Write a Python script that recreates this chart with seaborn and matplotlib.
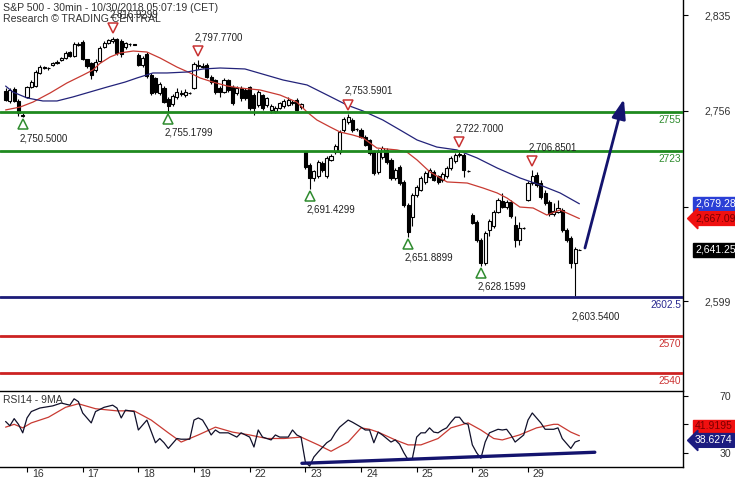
import matplotlib
matplotlib.use("Agg")
import matplotlib.pyplot as plt
import matplotlib.transforms as mtransforms
import numpy as np
import pandas as pd
import seaborn as sns

# ---------------- data ----------------
day_labels = ["16", "17", "18", "19", "22", "23", "24", "25", "26", "29"]
day_start = [5, 18, 31, 44, 57, 70, 83, 96, 109, 122]

opens = [
    2772.3, 2764.1, 2774.0, 2764.1, 2751.7,
    2767.4, 2775.6, 2776.5, 2787.2, 2792.1, 2791.3, 2793.8, 2795.4, 2797.9, 2799.5, 2804.5, 2801.2, 2810.3,
    2812.8, 2798.7, 2795.4, 2789.7, 2797.1, 2808.6, 2811.9, 2813.6, 2815.2, 2813.6, 2808.6, 2811.1, 2810.9,
    2802.0, 2793.8, 2802.9, 2785.5, 2783.1, 2770.7, 2774.8, 2765.7, 2761.6, 2767.4, 2770.7, 2769.0, 2770.7,
    2774.8, 2793.0, 2793.0, 2793.8, 2783.9, 2781.4, 2774.8, 2771.5, 2781.4, 2775.6, 2770.7, 2774.8, 2773.2,
    2775.6, 2769.0, 2760.8, 2769.0, 2760.8, 2756.7, 2755.8, 2758.3, 2760.0, 2760.8, 2763.2, 2764.9, 2759.1,
    2722.0, 2711.3, 2700.6, 2702.2, 2712.9, 2702.2, 2715.4, 2722.0, 2722.0, 2740.2, 2746.8, 2748.4, 2741.0,
    2740.2, 2734.4, 2731.9, 2722.0, 2705.5, 2717.9, 2723.7, 2715.4, 2700.6, 2709.6, 2697.3, 2678.3, 2668.4,
    2686.5, 2690.7, 2697.3, 2701.4, 2705.5, 2702.2, 2698.9, 2702.2, 2708.8, 2714.6, 2719.5, 2719.5, 2706.3,
    2670.0, 2664.2, 2649.4, 2630.4, 2657.7, 2661.0, 2672.5, 2681.6, 2676.6, 2680.7, 2661.8, 2649.4, 2659.6,
    2682.4, 2696.4, 2703.0, 2696.4, 2688.2, 2680.7, 2670.9, 2672.5, 2674.2, 2657.7, 2651.1, 2630.4, 2641.5,
]
highs = [
    2774.8, 2774.8, 2775.6, 2765.7, 2754.2,
    2776.5, 2781.4, 2789.7, 2793.8, 2793.0, 2792.5, 2796.5, 2797.5, 2800.5, 2805.3, 2805.3, 2812.8, 2812.8,
    2814.4, 2799.0, 2796.2, 2798.7, 2809.4, 2813.6, 2815.2, 2816.9299, 2816.0, 2815.2, 2812.8, 2812.0, 2811.2,
    2803.7, 2801.2, 2804.5, 2787.2, 2783.9, 2779.7, 2776.5, 2767.4, 2769.9, 2774.8, 2773.5, 2774.0, 2771.5,
    2796.2, 2797.77, 2795.4, 2795.4, 2785.5, 2782.2, 2776.5, 2783.1, 2782.2, 2777.3, 2776.5, 2776.5, 2774.8,
    2776.5, 2770.7, 2773.2, 2769.9, 2767.4, 2761.6, 2760.0, 2763.2, 2765.7, 2767.4, 2764.9, 2766.6, 2762.4,
    2722.8, 2712.9, 2707.2, 2715.4, 2714.6, 2718.8, 2720.3, 2728.6, 2740.2, 2750.9, 2753.5901, 2750.0, 2741.8,
    2741.8, 2736.0, 2732.7, 2723.7, 2724.5, 2727.0, 2725.3, 2717.1, 2708.8, 2711.3, 2698.9, 2680.0, 2688.2,
    2694.8, 2702.2, 2706.3, 2708.8, 2707.2, 2703.0, 2705.5, 2710.4, 2718.7, 2721.2, 2722.70, 2721.2, 2707.0,
    2671.7, 2665.9, 2651.1, 2656.8, 2666.7, 2674.2, 2684.0, 2688.2, 2682.4, 2682.4, 2669.2, 2664.2, 2660.0,
    2698.1, 2706.8501, 2705.5, 2698.9, 2690.7, 2682.4, 2680.0, 2682.4, 2675.8, 2659.3, 2652.7, 2643.6, 2642.0,
]
lows = [
    2764.1, 2762.4, 2763.2, 2751.7, 2750.50,
    2766.6, 2774.8, 2775.6, 2786.3, 2790.5, 2790.0, 2793.0, 2794.5, 2796.8, 2798.7, 2800.4, 2800.4, 2809.4,
    2797.9, 2791.3, 2782.2, 2788.0, 2796.2, 2807.8, 2811.1, 2811.9, 2802.0, 2800.4, 2807.0, 2809.5, 2810.0,
    2793.0, 2792.1, 2783.1, 2769.0, 2769.9, 2769.0, 2762.4, 2755.1799, 2760.0, 2765.7, 2768.5, 2767.4, 2769.8,
    2774.0, 2790.5, 2791.3, 2783.1, 2778.1, 2769.9, 2767.4, 2770.7, 2771.5, 2760.8, 2769.0, 2764.1, 2764.9,
    2756.7, 2752.5, 2759.1, 2756.7, 2759.1, 2754.2, 2754.2, 2757.5, 2758.3, 2760.0, 2760.8, 2755.8, 2757.5,
    2708.0, 2691.4299, 2698.1, 2700.6, 2705.5, 2700.6, 2714.6, 2720.3, 2720.3, 2738.5, 2745.1, 2738.5, 2739.5,
    2733.5, 2727.0, 2719.5, 2703.0, 2703.8, 2716.2, 2712.1, 2698.9, 2698.9, 2694.8, 2676.6, 2651.8899, 2661.0,
    2684.9, 2689.8, 2695.6, 2700.6, 2698.1, 2695.6, 2697.3, 2700.6, 2707.2, 2712.9, 2717.9, 2701.4, 2705.6,
    2662.6, 2647.8, 2628.1599, 2628.8, 2652.7, 2659.3, 2671.7, 2675.8, 2675.0, 2667.5, 2643.6, 2645.3, 2658.8,
    2681.6, 2694.8, 2693.2, 2683.2, 2678.3, 2669.2, 2669.2, 2671.7, 2656.0, 2647.8, 2626.3, 2603.54, 2641.0,
]
closes = [
    2764.9, 2773.2, 2764.1, 2754.2, 2752.5,
    2775.6, 2779.7, 2788.0, 2792.1, 2791.5, 2791.0, 2795.4, 2796.2, 2799.5, 2803.7, 2801.2, 2811.1, 2811.1,
    2798.7, 2793.0, 2785.5, 2796.2, 2807.8, 2811.9, 2814.4, 2815.2, 2803.7, 2802.9, 2811.9, 2810.7, 2810.6,
    2793.8, 2799.5, 2784.7, 2770.7, 2771.5, 2778.1, 2763.2, 2760.0, 2768.2, 2771.5, 2770.2, 2771.5, 2770.5,
    2794.6, 2793.8, 2792.5, 2783.9, 2779.7, 2771.5, 2771.5, 2781.4, 2773.2, 2762.4, 2774.8, 2766.6, 2766.6,
    2758.3, 2758.3, 2771.5, 2758.3, 2766.6, 2760.0, 2758.3, 2762.4, 2764.1, 2764.9, 2762.4, 2756.7, 2761.6,
    2709.6, 2700.6, 2706.3, 2713.7, 2707.2, 2717.1, 2718.7, 2727.0, 2738.5, 2749.2, 2750.9, 2740.2, 2740.6,
    2734.4, 2727.8, 2721.2, 2704.7, 2722.0, 2725.3, 2713.8, 2700.6, 2707.2, 2696.4, 2678.3, 2656.0, 2686.5,
    2693.1, 2700.6, 2704.7, 2707.2, 2698.9, 2697.3, 2703.8, 2708.8, 2717.1, 2719.5, 2720.3, 2707.2, 2706.0,
    2663.4, 2649.4, 2630.4, 2655.2, 2665.1, 2672.5, 2682.4, 2676.6, 2680.7, 2669.2, 2649.4, 2659.3, 2659.3,
    2696.4, 2702.2, 2694.8, 2684.9, 2679.9, 2670.9, 2673.3, 2675.8, 2657.7, 2649.4, 2630.4, 2642.0, 2641.25,
]

# moving averages on price (bar index, value)
ma_red_idx = [0, 3.4, 6.4, 10.4, 14.3, 18.1, 20.4, 22.0, 24.4, 26.7, 29.8, 33.0, 36.1, 40.0, 43.1, 45.4,
              48.4, 51.7, 54.7, 59.4, 64.1, 68.0, 70.4, 72.7, 75.8, 78.1, 81.1, 83.5, 86.7, 91.4, 93.7,
              96.1, 99.1, 103.1, 107.8, 111.5, 114.8, 117.1, 120.1, 123.2, 126.4, 129.5, 134]
ma_red_val = [2756.7, 2759.1, 2763.2, 2770.7, 2778.9, 2785.5, 2789.7, 2795.0, 2800.4, 2803.7, 2805.3,
              2804.5, 2799.5, 2792.1, 2787.2, 2783.1, 2779.7, 2776.5, 2774.8, 2773.2, 2769.0, 2763.2,
              2755.0, 2748.4, 2742.6, 2738.5, 2736.0, 2733.5, 2725.3, 2723.7, 2722.0, 2715.4, 2705.5,
              2697.3, 2696.4, 2692.3, 2688.2, 2684.0, 2676.6, 2675.8, 2670.0, 2674.2, 2667.09]
ma_blue_idx = [0, 1.7, 5.0, 8.7, 12.0, 15.7, 19.7, 23.7, 27.9, 30.7, 34.4, 37.7, 42.4, 46.1, 50.1, 55.9,
               64.8, 70.4, 75.1, 79.7, 83.5, 88.1, 92.1, 96.1, 100.7, 105.4, 110.1, 114.8, 120.1, 124.8,
               129.5, 134]
ma_blue_val = [2776.4, 2771.5, 2766.6, 2764.1, 2764.1, 2767.4, 2771.5, 2775.6, 2779.7, 2783.1, 2787.2,
               2787.2, 2788.0, 2790.5, 2791.3, 2790.5, 2781.4, 2777.3, 2769.0, 2760.8, 2755.8, 2748.4,
               2740.2, 2731.9, 2726.1, 2723.7, 2717.1, 2708.8, 2700.6, 2694.8, 2688.2, 2679.28]

# pivots
pivot_high_idx = [25, 45, 80, 106, 123]
pivot_high_val = [2816.9299, 2797.77, 2753.5901, 2722.70, 2706.8501]
pivot_low_idx = [4, 38, 71, 94, 111]
pivot_low_val = [2750.50, 2755.1799, 2691.4299, 2651.8899, 2628.1599]
last_low_idx, last_low_val = 133, 2603.54

# support / resistance levels
level_vals = [2755, 2723, 2602.5, 2570, 2540]
level_colors = ["#1f8a1f", "#1f8a1f", "#1c1c78", "#cc2222", "#cc2222"]
level_text_colors = ["#2e8b2e", "#2e8b2e", "#2a2a90", "#cc3333", "#cc3333"]

# projected move
proj_idx = [135.3, 144.4]
proj_val = [2642.8, 2765.7]

# RSI(14) and its 9-period average
rsi_idx = [0, 1, 2, 3, 4, 5, 6, 8, 11, 13, 15, 16, 17, 18, 20, 21, 23, 25, 26, 27, 28, 30, 31, 33, 35,
           36, 37, 38, 40, 41, 43, 44, 45, 46, 47, 48, 49, 50, 52, 54, 55, 57, 58, 59, 60, 62, 63, 64,
           66, 67, 68, 69, 70, 71, 72, 73, 75, 76, 77, 78, 80, 81, 83, 84, 85, 86, 87, 88, 90, 91, 92,
           93, 94, 95, 96, 97, 98, 99, 100, 101, 102, 103, 104, 105, 106, 107, 108, 109, 110, 111,
           112, 113, 115, 116, 117, 118, 119, 120, 121, 122, 123, 124, 125, 126, 128, 129, 130, 132,
           133, 134]
rsi_val = [52, 49, 54, 50, 44, 54.5, 59, 61.5, 63, 65, 63.5, 68, 66, 58, 51, 59, 62, 63.5, 61.5, 54.5,
           60, 59, 46, 53, 37, 40, 37, 33, 40, 39.5, 39.5, 53, 54.5, 53, 48, 42.5, 46, 44, 44, 41, 44,
           41, 34, 46, 41, 39, 42.5, 41, 41, 46, 42.5, 41, 23.5, 20.5, 27, 30.5, 37, 39, 44, 48, 53,
           51.5, 48, 46, 46, 37, 44.5, 42.5, 37.5, 39, 36, 30, 25, 26, 41, 44, 44, 47.5, 44.5, 44, 46,
           47.5, 51.5, 55, 55, 51, 50, 35.5, 30, 26, 37.5, 44, 46.5, 46, 46.5, 42.5, 37.5, 40, 42.5,
           53, 58, 54.5, 51, 46.5, 46.5, 47.5, 40, 33, 37.5, 38.6274]
rsi_ma_idx = [0, 2, 4, 6, 10, 14, 17, 21, 26, 30, 34, 38, 41, 45, 49, 53, 57, 61, 65, 69, 73, 76, 80,
              83, 85, 87, 91, 94, 97, 101, 104, 108, 111, 114, 116, 120, 124, 128, 129, 132, 134]
rsi_ma_val = [48, 50, 47.5, 51, 55, 62, 64.5, 61, 59.5, 59.5, 53, 44, 37.5, 42.5, 48, 44.5, 42.5, 40,
              40, 41, 35.5, 31, 37.5, 47.5, 46.5, 44.5, 39, 35.5, 35.5, 40, 47.5, 51, 46, 40, 39, 42.5,
              47.5, 50, 50, 44.5, 41.9195]
rsi_trend_idx = [69.2, 137.6]
rsi_trend_val = [22.5, 30.3]

# ---------------- plotting ----------------
sns.set_theme(style="white")
plt.rcParams["font.family"] = ["Liberation Sans", "DejaVu Sans"]

NAVY = "#14146e"
RED = "#cc2a2a"
TEXT = "#333333"

fig = plt.figure(figsize=(7.35, 4.8), dpi=100)
ax = fig.add_axes([0, 90 / 480, 683 / 735, 390 / 480])
ax_rsi = fig.add_axes([0, 13 / 480, 683 / 735, 76 / 480])

bars = pd.DataFrame({"open": opens, "high": highs, "low": lows, "close": closes})
bars["idx"] = np.arange(len(bars))
up = bars[bars["close"] >= bars["open"]]
down = bars[bars["close"] < bars["open"]]

ax.vlines(bars["idx"], bars["low"], bars["high"], color="black", lw=0.8, zorder=2)
ax.bar(up["idx"], up["close"] - up["open"], bottom=up["open"], width=0.72,
       facecolor="white", edgecolor="black", lw=0.8, zorder=3)
ax.bar(down["idx"], down["open"] - down["close"], bottom=down["close"], width=0.72,
       facecolor="black", edgecolor="black", lw=0.8, zorder=3)

sns.lineplot(x=ma_red_idx, y=ma_red_val, ax=ax, color="#c83a32", lw=0.9, zorder=4)
sns.lineplot(x=ma_blue_idx, y=ma_blue_val, ax=ax, color="#23237a", lw=0.9, zorder=4)

for val, col, tcol in zip(level_vals, level_colors, level_text_colors):
    ax.axhline(val, color=col, lw=2, zorder=5)
    ax.annotate(f"{val:g}", xy=(1, val), xycoords=("axes fraction", "data"),
                xytext=(-1.2, -2.2), textcoords="offset points", ha="right", va="top",
                fontsize=7.3, color=tcol)

# pivot markers and labels
up_shift = mtransforms.ScaledTranslation(0, 0.09, fig.dpi_scale_trans)
dn_shift = mtransforms.ScaledTranslation(0, -0.07, fig.dpi_scale_trans)
ax.plot(pivot_high_idx, pivot_high_val, linestyle="none", marker="v", ms=7.5, mfc="white",
        mec="#c83232", mew=1.1, transform=ax.transData + up_shift, zorder=6)
ax.plot(pivot_low_idx, pivot_low_val, linestyle="none", marker="^", ms=7.5, mfc="white",
        mec="#2e8b2e", mew=1.1, transform=ax.transData + dn_shift, zorder=6)
for i, v in zip(pivot_high_idx, pivot_high_val):
    ax.annotate(f"{v:,.4f}", xy=(i, v), xytext=(-2.5, 16.5), textcoords="offset points",
                ha="left", va="center", fontsize=7, color="#222222", zorder=7)
for i, v in zip(pivot_low_idx + [last_low_idx], pivot_low_val + [last_low_val]):
    ax.annotate(f"{v:,.4f}", xy=(i, v), xytext=(-2.5, -15), textcoords="offset points",
                ha="left", va="center", fontsize=7, color="#222222", zorder=7)

# projected arrow
ax.annotate("", xy=(proj_idx[1], proj_val[1]), xytext=(proj_idx[0], proj_val[0]),
            arrowprops=dict(arrowstyle="-|>,head_length=0.9,head_width=0.32", color=NAVY,
                            lw=2, mutation_scale=13, shrinkA=0, shrinkB=0), zorder=6)

ax.set_xlim(-1.31, 158.2)
ax.set_ylim(2525.65, 2847.4)
ax.set_xticks([])
ax.yaxis.tick_right()
ax.set_yticks([2835, 2756, 2677, 2599])
ax.set_yticklabels(["2,835", "2,756", "", "2,599"])
ax.tick_params(axis="y", direction="out", length=3.6, width=0.8, pad=12, labelsize=7.6,
               colors="black", labelcolor=TEXT)
for side in ["top", "left", "bottom"]:
    ax.spines[side].set_visible(False)
ax.spines["right"].set_color("black")
ax.spines["right"].set_linewidth(1)
ax.set_xlabel("")
ax.set_ylabel("")


def value_tag(axis, value, text, face, fg, dx, dy=0.0, style="square"):
    axis.annotate(text, xy=(1, value), xycoords=("axes fraction", "data"), xytext=(dx, dy),
                  textcoords="offset points", ha="left", va="center", fontsize=7.5, color=fg,
                  annotation_clip=False, zorder=10,
                  bbox=dict(boxstyle=f"{style},pad=0.18", fc=face, ec=face))


value_tag(ax, ma_blue_val[-1], f"{ma_blue_val[-1]:,.2f}", "#2a3fd6", "white", 8.6)
value_tag(ax, ma_red_val[-1], f"{ma_red_val[-1]:,.2f}", "#f01010", "#7a0000", 8.6, style="larrow")
value_tag(ax, closes[-1], f"{closes[-1]:,.2f}", "black", "white", 8.6)

# ---------------- RSI panel ----------------
sns.lineplot(x=rsi_ma_idx, y=rsi_ma_val, ax=ax_rsi, color="#c83a32", lw=0.9)
sns.lineplot(x=rsi_idx, y=rsi_val, ax=ax_rsi, color="#10102a", lw=0.9)
sns.lineplot(x=rsi_trend_idx, y=rsi_trend_val, ax=ax_rsi, color=NAVY, lw=2.4)
ax_rsi.text(0.004, 0.88, "RSI14 - 9MA", transform=ax_rsi.transAxes, ha="left", va="center",
            fontsize=7.5, color=TEXT)

ax_rsi.set_xlim(-1.31, 158.2)
ax_rsi.set_ylim(19.9, 73.5)
ax_rsi.yaxis.tick_right()
ax_rsi.set_yticks([30, 50, 70])
ax_rsi.set_yticklabels(["30", "", "70"])
ax_rsi.tick_params(axis="y", direction="out", length=3.6, width=0.8, pad=23, labelsize=7.6,
                   colors="black", labelcolor=TEXT)
ax_rsi.set_xticks(day_start)
ax_rsi.set_xticklabels(day_labels)
ax_rsi.tick_params(axis="x", direction="out", length=3.6, width=0.8, pad=0, labelsize=7.6,
                   colors="black", labelcolor=TEXT, bottom=True)
label_shift = mtransforms.ScaledTranslation(0.05, 0.03, fig.dpi_scale_trans)
for lbl in ax_rsi.get_xticklabels():
    lbl.set_horizontalalignment("left")
    lbl.set_transform(lbl.get_transform() + label_shift)
ax_rsi.spines["left"].set_visible(False)
for side in ["top", "bottom", "right"]:
    ax_rsi.spines[side].set_color("black")
    ax_rsi.spines[side].set_linewidth(1)
ax_rsi.set_xlabel("")
ax_rsi.set_ylabel("")

value_tag(ax_rsi, rsi_ma_val[-1], f"{rsi_ma_val[-1]:.4f}", "#f01010", "#7a0000", 8.6, dy=6.7)
value_tag(ax_rsi, rsi_val[-1], f"{rsi_val[-1]:.4f}", "#1c1c80", "white", 8.6, style="larrow")

fig.text(3 / 735, 1 - 8 / 480, "S&P 500 - 30min - 10/30/2018 05:07:19 (CET)", ha="left",
         va="center", fontsize=7.6, color=TEXT)
fig.text(3 / 735, 1 - 19.5 / 480, "Research \u00a9 TRADING CENTRAL", ha="left", va="center",
         fontsize=7.6, color=TEXT)

fig.savefig("out.png", dpi=100, facecolor="white")
